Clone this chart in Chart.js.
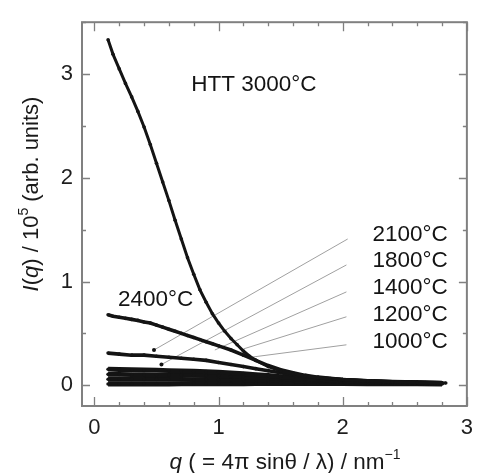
<!DOCTYPE html>
<html>
<head>
<meta charset="utf-8">
<script src="https://cdn.jsdelivr.net/npm/chart.js@4/dist/chart.umd.min.js"></script>
<style>
  html, body { margin: 0; padding: 0; background: #fff; }
  canvas { display: block; }
</style>
</head>
<body>
<canvas id="c" width="482" height="473"></canvas>
<script>
// Small-angle scattering intensity I(q) (in 10^5 arb. units) versus q (nm^-1)
// for samples heat-treated at different temperatures.
const q3000 = [0.11,0.15,0.20,0.25,0.30,0.35,0.40,0.45,0.50,0.55,0.60,0.65,0.70,0.75,0.80,0.85,0.90,0.95,1.00,1.05,1.10,1.15,1.20,1.25,1.30,1.40,1.50,1.60,1.70,1.80,1.90,2.00,2.20,2.40,2.60,2.83];
const i3000 = [3.33,3.19,3.05,2.91,2.78,2.64,2.49,2.32,2.14,1.96,1.78,1.59,1.41,1.23,1.07,0.92,0.80,0.69,0.60,0.52,0.45,0.39,0.33,0.28,0.24,0.18,0.14,0.11,0.09,0.075,0.065,0.055,0.042,0.033,0.027,0.022];

const q2400 = [0.11,0.15,0.20,0.25,0.30,0.35,0.40,0.45,0.50,0.55,0.60,0.65,0.70,0.75,0.80,0.85,0.90,0.95,1.00,1.10,1.20,1.30,1.40,1.50,1.60,1.70,1.80,2.00,2.20,2.40,2.60,2.80];
const i2400 = [0.68,0.665,0.655,0.645,0.635,0.625,0.61,0.60,0.58,0.56,0.54,0.52,0.50,0.48,0.46,0.44,0.42,0.40,0.38,0.34,0.29,0.24,0.19,0.15,0.12,0.095,0.078,0.056,0.043,0.034,0.027,0.022];

const qLow  = [0.11,0.20,0.30,0.40,0.50,0.60,0.70,0.80,0.90,1.00,1.10,1.20,1.30,1.40,1.50,1.60,1.70,1.80,2.00,2.20,2.40,2.60,2.80];
const i2100 = [0.31,0.30,0.29,0.29,0.28,0.27,0.26,0.25,0.24,0.22,0.20,0.18,0.16,0.14,0.12,0.10,0.085,0.072,0.054,0.041,0.032,0.026,0.021];
const i1800 = [0.155,0.152,0.15,0.148,0.145,0.142,0.139,0.135,0.131,0.126,0.12,0.112,0.103,0.094,0.084,0.074,0.066,0.058,0.047,0.037,0.03,0.025,0.02];
const i1400 = [0.105,0.104,0.103,0.102,0.1,0.099,0.098,0.096,0.094,0.092,0.088,0.084,0.079,0.073,0.067,0.06,0.054,0.049,0.041,0.034,0.028,0.023,0.019];
const i1200 = [0.058,0.058,0.057,0.057,0.057,0.056,0.056,0.055,0.055,0.054,0.053,0.052,0.05,0.048,0.046,0.044,0.042,0.04,0.035,0.03,0.026,0.022,0.018];
const i1000 = [0.012,0.012,0.012,0.013,0.013,0.013,0.014,0.014,0.014,0.015,0.015,0.015,0.016,0.016,0.016,0.016,0.016,0.016,0.016,0.015,0.015,0.014,0.013];

// Temperature labels and the leader lines joining them to their curves
const tempLabels = ['2100°C', '1800°C', '1400°C', '1200°C', '1000°C'];
const leaderStartQ = [2.04, 2.03, 2.03, 2.03, 2.03];
const leaderStartI = [1.41, 1.16, 0.90, 0.66, 0.39];
const leaderEndQ   = [0.48, 0.54, 0.97, 1.20, 1.26];
const leaderEndI   = [0.34, 0.20, 0.34, 0.35, 0.27];

const xMajorTicks = [0, 1, 2, 3];
const yMajorTicks = [0, 1, 2, 3];

const FONT = '"Liberation Sans", Arial, Helvetica, sans-serif';
const INK = '#141414';

const pts = (qs, is) => qs.map((q, k) => ({ x: q, y: is[k] }));

function curve(qs, is, width) {
  return {
    data: pts(qs, is),
    showLine: true,
    borderColor: INK,
    borderWidth: width,
    pointRadius: 1.8,
    pointBackgroundColor: INK,
    pointBorderWidth: 0,
    order: 1
  };
}

const datasets = [
  curve(q3000, i3000, 3),
  curve(q2400, i2400, 3.6),
  curve(qLow, i2100, 3.6),
  curve(qLow, i1800, 4.8),
  curve(qLow, i1400, 4.8),
  curve(qLow, i1200, 4.8),
  curve(qLow, i1000, 5)
];
tempLabels.forEach((_, k) => {
  datasets.push({
    data: [{ x: leaderStartQ[k], y: leaderStartI[k] }, { x: leaderEndQ[k], y: leaderEndI[k] }],
    showLine: true,
    borderColor: '#a0a0a0',
    borderWidth: 1,
    pointRadius: [0, k < 2 ? 2 : 0],
    pointBackgroundColor: INK,
    pointBorderWidth: 0,
    order: 5
  });
});

// Draws text made of runs (italic / superscript pieces), centred on cx
function drawRuns(ctx, runs, cx, baseY, size) {
  const fontOf = r => `${r.italic ? 'italic ' : ''}${r.sup ? Math.round(size * 0.64) : size}px ${FONT}`;
  let total = 0;
  runs.forEach(r => { ctx.font = fontOf(r); r.w = ctx.measureText(r.t).width; total += r.w; });
  let x = cx - total / 2;
  ctx.textAlign = 'left';
  ctx.textBaseline = 'alphabetic';
  runs.forEach(r => {
    ctx.font = fontOf(r);
    ctx.fillText(r.t, x, baseY - (r.sup ? size * 0.45 : 0));
    x += r.w;
  });
}

// Frame with inward ticks on all four sides
const frameTicks = {
  id: 'frameTicks',
  afterDraw(chart) {
    const { ctx, chartArea: a, scales: { x, y } } = chart;
    ctx.save();
    ctx.strokeStyle = '#808080';
    ctx.lineWidth = 1.3;
    ctx.beginPath();
    for (let k = 0; k <= 15; k++) {
      const px = Math.round(x.getPixelForValue(k * 0.2)) + 0.5;
      const len = k % 5 === 0 ? 9 : 4;
      ctx.moveTo(px, a.bottom); ctx.lineTo(px, a.bottom - len);
      ctx.moveTo(px, a.top); ctx.lineTo(px, a.top + len);
    }
    for (let k = 0; k <= 7; k++) {
      const py = Math.round(y.getPixelForValue(k * 0.5)) + 0.5;
      const len = k % 2 === 0 ? 8 : 4;
      ctx.moveTo(a.left, py); ctx.lineTo(a.left + len, py);
      ctx.moveTo(a.right, py); ctx.lineTo(a.right - len, py);
    }
    ctx.stroke();
    ctx.lineWidth = 2;
    ctx.strokeRect(a.left, a.top, a.right - a.left, a.bottom - a.top);

    // axis titles
    ctx.fillStyle = '#1a1a1a';
    ctx.save();
    ctx.translate(38, 194);
    ctx.rotate(-Math.PI / 2);
    drawRuns(ctx, [
      { t: 'I', italic: true }, { t: '(' }, { t: 'q', italic: true },
      { t: ') / 10' }, { t: '5', sup: true }, { t: ' (arb. units)' }
    ], 0, 0, 22);
    ctx.restore();
    drawRuns(ctx, [
      { t: 'q', italic: true }, { t: ' ( = 4π sinθ / λ) / nm' }, { t: '−1', sup: true }
    ], 285, 469, 22.5);
    ctx.restore();
  }
};

// Curve labels placed in data coordinates
const curveLabels = {
  id: 'curveLabels',
  afterDatasetsDraw(chart) {
    const { ctx, scales: { x, y } } = chart;
    ctx.save();
    ctx.fillStyle = INK;
    ctx.font = `22.5px ${FONT}`;
    ctx.textAlign = 'left';
    ctx.textBaseline = 'middle';
    ctx.fillText('HTT 3000°C', x.getPixelForValue(0.78), y.getPixelForValue(2.90));
    ctx.fillText('2400°C', x.getPixelForValue(0.19), y.getPixelForValue(0.82));
    const rowI = [1.45, 1.20, 0.94, 0.68, 0.42];
    tempLabels.forEach((t, k) => ctx.fillText(t, x.getPixelForValue(2.24), y.getPixelForValue(rowI[k])));
    ctx.restore();
  }
};

new Chart(document.getElementById('c'), {
  type: 'scatter',
  data: { datasets },
  options: {
    responsive: false,
    animation: false,
    devicePixelRatio: 1,
    layout: { padding: { left: 0, top: 13, right: 8, bottom: 0 } },
    plugins: { legend: { display: false }, tooltip: { enabled: false } },
    elements: { line: { tension: 0 } },
    scales: {
      x: {
        type: 'linear', min: -0.1, max: 3,
        afterBuildTicks: s => { s.ticks = xMajorTicks.map(v => ({ value: v })); },
        afterFit: s => { s.height = 67; },
        grid: { display: false, drawTicks: false },
        border: { display: false },
        ticks: { font: { family: FONT, size: 22 }, color: '#1e1e1e', padding: 9, maxRotation: 0, autoSkip: false }
      },
      y: {
        type: 'linear', min: -0.2, max: 3.5,
        afterBuildTicks: s => { s.ticks = yMajorTicks.map(v => ({ value: v })); },
        afterFit: s => { s.width = 82; },
        grid: { display: false, drawTicks: false },
        border: { display: false },
        ticks: { font: { family: FONT, size: 22 }, color: '#1e1e1e', padding: 9, autoSkip: false }
      }
    }
  },
  plugins: [frameTicks, curveLabels]
});
</script>
</body>
</html>
